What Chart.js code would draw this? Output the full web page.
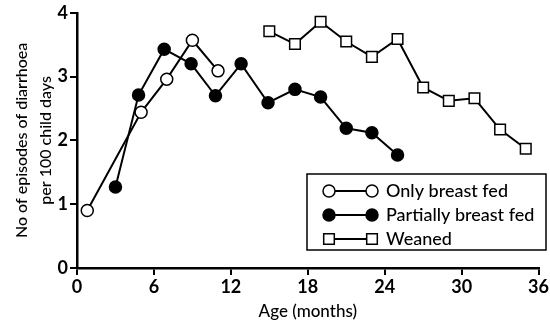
<!DOCTYPE html>
<html>
<head>
<meta charset="utf-8">
<script src="https://cdn.jsdelivr.net/npm/chart.js@4"></script>
<style>
  html, body { margin: 0; padding: 0; background: #fff; }
  #wrap { width: 550px; height: 324px; position: relative; }
</style>
</head>
<body>
<div id="wrap"><canvas id="chart" width="550" height="324"></canvas></div>
<script>
// Datos
const onlyBreastAge = [0.8, 5, 7, 9, 11];
const onlyBreastVal = [0.9, 2.44, 2.96, 3.57, 3.09];

const partialAge = [3, 4.8, 6.8, 8.9, 10.8, 12.8, 14.9, 17, 19, 21, 23, 25];
const partialVal = [1.27, 2.71, 3.43, 3.2, 2.7, 3.2, 2.59, 2.8, 2.68, 2.19, 2.12, 1.77];

const weanedAge = [15, 17, 19, 21, 23, 25, 27, 29, 31, 33, 35];
const weanedVal = [3.71, 3.51, 3.86, 3.55, 3.31, 3.59, 2.83, 2.62, 2.66, 2.17, 1.87];

const seriesNames = ['Only breast fed', 'Partially breast fed', 'Weaned'];
const xTicks = [0, 6, 12, 18, 24, 30, 36];
const yTicks = [0, 1, 2, 3, 4];

const FONT = 'Lato, "Open Sans", sans-serif';

function toPoints(xs, ys) {
    return xs.map((x, i) => ({ x: x, y: ys[i] }));
}

// Leyenda propia: línea con marcador en ambos extremos
const boxLegend = {
    id: 'boxLegend',
    afterDraw(chart) {
        const ctx = chart.ctx;
        const left = 307, top = 174, right = 546, bottom = 250;
        ctx.save();
        ctx.strokeStyle = '#000';
        ctx.lineWidth = 1.5;
        ctx.fillStyle = '#fff';
        ctx.fillRect(left, top, right - left, bottom - top);
        ctx.strokeRect(left, top, right - left, bottom - top);
        const rows = [191, 215, 239];
        chart.data.datasets.forEach((ds, i) => {
            const y = rows[i];
            const x1 = 329, x2 = 372;
            ctx.strokeStyle = '#000';
            ctx.lineWidth = 2;
            ctx.beginPath();
            ctx.moveTo(x1, y);
            ctx.lineTo(x2, y);
            ctx.stroke();
            const opts = {
                pointStyle: ds.pointStyle,
                radius: ds.pointRadius,
                rotation: 0,
                borderWidth: ds.borderWidth
            };
            [x1, x2].forEach(x => {
                ctx.fillStyle = ds.pointBackgroundColor;
                ctx.strokeStyle = '#000';
                ctx.lineWidth = 1.5;
                Chart.helpers.drawPoint(ctx, opts, x, y);
            });
            ctx.fillStyle = '#000';
            ctx.font = '500 18px ' + FONT;
            ctx.textBaseline = 'middle';
            ctx.textAlign = 'left';
            ctx.fillText(seriesNames[i], 386, y);
        });
        ctx.restore();
    }
};

const ctx = document.getElementById('chart').getContext('2d');

new Chart(ctx, {
    type: 'line',
    data: {
        datasets: [
            {
                label: seriesNames[0],
                data: toPoints(onlyBreastAge, onlyBreastVal),
                borderColor: '#000',
                borderWidth: 2,
                pointStyle: 'circle',
                pointRadius: 6,
                pointBackgroundColor: '#fff',
                pointBorderColor: '#000',
                pointBorderWidth: 1.5,
                order: 1
            },
            {
                label: seriesNames[1],
                data: toPoints(partialAge, partialVal),
                borderColor: '#000',
                borderWidth: 2,
                pointStyle: 'circle',
                pointRadius: 6,
                pointBackgroundColor: '#000',
                pointBorderColor: '#000',
                pointBorderWidth: 1.5,
                order: 2
            },
            {
                label: seriesNames[2],
                data: toPoints(weanedAge, weanedVal),
                borderColor: '#000',
                borderWidth: 2,
                pointStyle: 'rect',
                pointRadius: 7.5,
                pointBackgroundColor: '#fff',
                pointBorderColor: '#000',
                pointBorderWidth: 1.5,
                order: 3
            }
        ]
    },
    options: {
        responsive: false,
        animation: false,
        layout: { padding: { top: 6, right: 4, left: 0, bottom: 0 } },
        plugins: {
            legend: { display: false },
            tooltip: { enabled: false }
        },
        scales: {
            x: {
                type: 'linear',
                min: 0,
                max: 36,
                afterBuildTicks: (scale) => { scale.ticks = xTicks.map(v => ({ value: v })); },
                ticks: {
                    color: '#000',
                    font: { family: FONT, size: 18, weight: 'bold' },
                    maxRotation: 0,
                    padding: 1
                },
                grid: { drawOnChartArea: false, color: '#000', tickLength: 7, lineWidth: 2 },
                border: { color: '#000', width: 2.5 },
                title: {
                    display: true,
                    text: 'Age (months)',
                    color: '#000',
                    font: { family: FONT, size: 17, weight: '500' },
                    padding: { top: 2, bottom: 2 }
                },
                afterFit: (scale) => { scale.height = 56; }
            },
            y: {
                min: 0,
                max: 4,
                afterBuildTicks: (scale) => { scale.ticks = yTicks.map(v => ({ value: v })); },
                ticks: {
                    color: '#000',
                    font: { family: FONT, size: 18, weight: 'bold' },
                    padding: 2
                },
                grid: { drawOnChartArea: false, color: '#000', tickLength: 7, lineWidth: 2 },
                border: { color: '#000', width: 2.5 },
                title: {
                    display: true,
                    text: ['No of episodes of diarrhoea', 'per 100 child days'],
                    color: '#000',
                    font: { family: FONT, size: 16, weight: '500', lineHeight: 1.55 },
                    padding: { top: 9, bottom: 4 }
                },
                afterFit: (scale) => { scale.width = 77; }
            }
        }
    },
    plugins: [boxLegend]
});
</script>
</body>
</html>
